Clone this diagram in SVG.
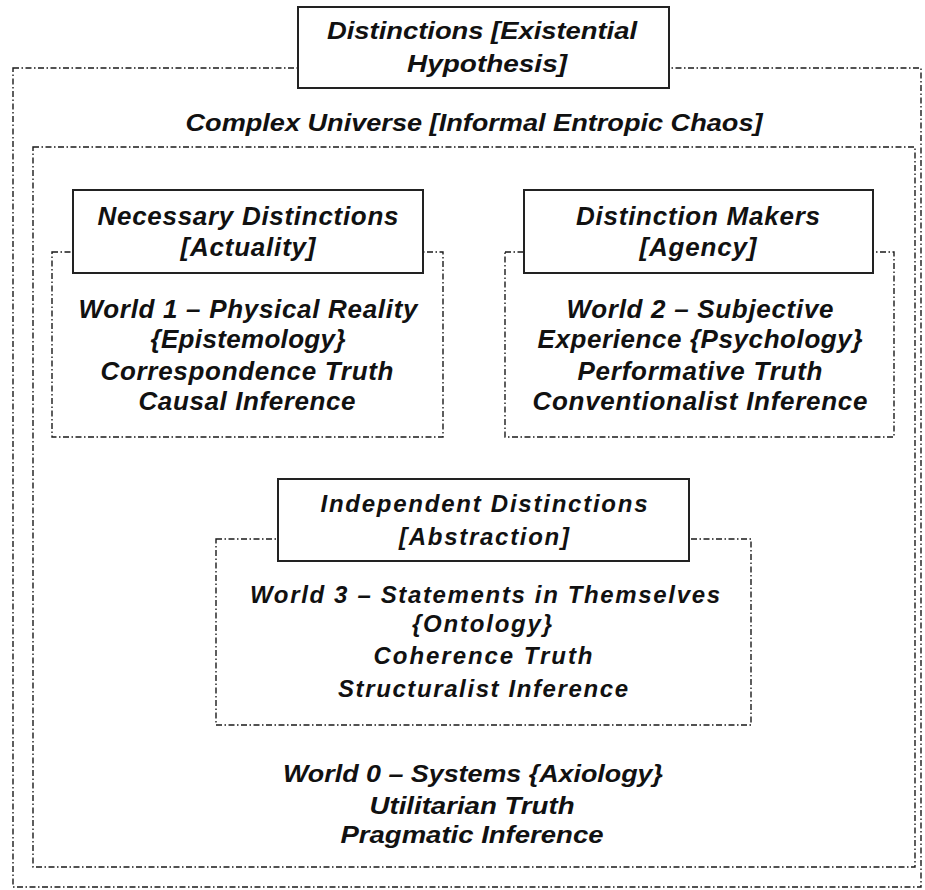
<svg xmlns="http://www.w3.org/2000/svg" width="925" height="890" viewBox="0 0 925 890">
  <style>
    .frame { fill: none; stroke: #1a1a1a; stroke-width: 1.4; stroke-dasharray: 6 2.5 1.5 2.5; }
    .box { fill: #fff; stroke: #222; stroke-width: 2; }
    text { font-family: "Liberation Sans", Arial, sans-serif; font-style: italic; font-weight: bold; fill: #111; text-anchor: middle; }
    .narrow { font-size: 24px; }
    .t22 { font-size: 24px; }
    .t24 { font-size: 26px; }
  </style>

  <!-- dash-dot frames -->
  <g id="frames">
    <rect class="frame" x="13" y="68" width="908" height="819"/>
    <rect class="frame" x="33" y="147" width="882" height="720"/>
    <rect class="frame" x="52" y="252" width="391" height="185"/>
    <rect class="frame" x="505" y="252" width="389" height="185"/>
    <rect class="frame" x="216" y="539" width="535" height="186"/>
  </g>

  <!-- outermost level -->
  <g id="distinctions">
    <rect class="box" x="298" y="7" width="371" height="81"/>
    <text class="narrow" x="482" y="39" textLength="310" lengthAdjust="spacingAndGlyphs">Distinctions [Existential</text>
    <text class="narrow" x="487" y="72" textLength="160" lengthAdjust="spacingAndGlyphs">Hypothesis]</text>
  </g>

  <g id="complex-universe">
    <text class="narrow" x="474" y="131" textLength="577" lengthAdjust="spacingAndGlyphs">Complex Universe [Informal Entropic Chaos]</text>
  </g>

  <!-- World 1 -->
  <g id="necessary-distinctions">
    <rect class="box" x="73" y="190" width="350" height="83"/>
    <text class="t24" x="248" y="225" textLength="301">Necessary Distinctions</text>
    <text class="t24" x="248" y="256" textLength="135">[Actuality]</text>
    <text class="t24" x="248" y="318" textLength="339">World 1 – Physical Reality</text>
    <text class="t24" x="248" y="348" textLength="195">{Epistemology}</text>
    <text class="t24" x="247" y="380" textLength="293">Correspondence Truth</text>
    <text class="t24" x="247" y="410" textLength="217">Causal Inference</text>
  </g>

  <!-- World 2 -->
  <g id="distinction-makers">
    <rect class="box" x="524" y="190" width="349" height="83"/>
    <text class="t24" x="698" y="225" textLength="244">Distinction Makers</text>
    <text class="t24" x="698" y="256" textLength="117">[Agency]</text>
    <text class="t24" x="700" y="318" textLength="267">World 2 – Subjective</text>
    <text class="t24" x="700" y="348" textLength="325">Experience {Psychology}</text>
    <text class="t24" x="700" y="380" textLength="245">Performative Truth</text>
    <text class="t24" x="700" y="410" textLength="335">Conventionalist Inference</text>
  </g>

  <!-- World 3 -->
  <g id="independent-distinctions">
    <rect class="box" x="278" y="479" width="411" height="82"/>
    <text class="t22" x="484" y="512" textLength="327">Independent Distinctions</text>
    <text class="t22" x="484" y="545" textLength="170">[Abstraction]</text>
    <text class="t22" x="485" y="603" textLength="470">World 3 – Statements in Themselves</text>
    <text class="t22" x="482" y="632" textLength="140">{Ontology}</text>
    <text class="t22" x="483" y="664" textLength="219">Coherence Truth</text>
    <text class="t22" x="483" y="697" textLength="290">Structuralist Inference</text>
  </g>

  <!-- World 0 -->
  <g id="world-0">
    <text class="narrow" x="473" y="782" textLength="380" lengthAdjust="spacingAndGlyphs">World 0 – Systems {Axiology}</text>
    <text class="narrow" x="472" y="814" textLength="205" lengthAdjust="spacingAndGlyphs">Utilitarian Truth</text>
    <text class="narrow" x="472" y="843" textLength="263" lengthAdjust="spacingAndGlyphs">Pragmatic Inference</text>
  </g>
</svg>
